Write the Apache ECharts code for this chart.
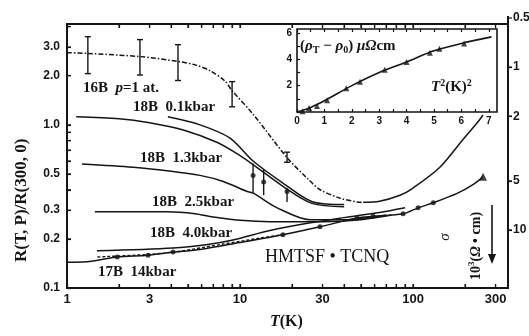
<!DOCTYPE html>
<html>
<head>
<meta charset="utf-8">
<script src="https://cdn.jsdelivr.net/npm/echarts@6/dist/echarts.min.js"></script>
<style>
html, body { margin: 0; padding: 0; background: #fff; }
#chart { width: 529px; height: 336px; }
</style>
</head>
<body>
<div id="chart"></div>
<script>
// axis ticks / labels
const tempTicks = [1, 2, 3, 4, 5, 6, 7, 8, 9, 10, 20, 30, 40, 50, 60, 70, 80, 90, 100, 200, 300]
const tempLabels = [1, 3, 10, 30, 100, 300]
const ratioTicks = [0.1, 0.2, 0.3, 0.4, 0.5, 0.6, 0.7, 0.8, 0.9, 1, 2, 3, 4]
const ratioLabels = [0.1, 0.2, 0.3, 0.5, 1, 2, 3]
const sigmaLabels = [1, 2, 5, 10]
const insetXTicks = [0, 0.5, 1, 1.5, 2, 2.5, 3, 3.5, 4, 4.5, 5, 5.5, 6, 6.5, 7]
const insetXLabels = [0, 1, 2, 3, 4, 5, 6, 7]
const insetYTicks = [0, 1, 2, 3, 4, 5, 6]
const insetYLabels = [2, 4, 6]

// [T (K), R(T,P)/R(300,0)]
const p1atm = [[1, 2.77], [1.32, 2.74], [2.64, 2.62], [4.38, 2.45], [5.5, 2.33], [6.7, 2.15], [8.2, 1.85], [9, 1.62], [12, 1.15], [18.7, 0.63], [25, 0.46], [29, 0.4], [38, 0.355], [47.5, 0.337], [51.5, 0.335]]
const p1atmHigh = [[51.5, 0.335], [64, 0.34], [84, 0.37], [100, 0.41], [143, 0.55], [194, 0.81], [235, 1.03], [254, 1.15]]
// [T, low, high]
const p1atmBars = [[1.32, 2.06, 3.47], [2.64, 2.02, 3.33], [4.38, 1.87, 3.1], [9, 1.29, 1.84], [18.7, 0.59, 0.68]]
const kbar01a = [[1.13, 1.12], [2.0, 1.09], [3.0, 1.03], [4.7, 0.93], [7.4, 0.78], [9.5, 0.67], [11.9, 0.57], [17.7, 0.42], [26, 0.33], [40, 0.315]]
const kbar01b = [[3.83, 1.12], [5.87, 1.0], [8.76, 0.83], [11.9, 0.6], [17.7, 0.44], [26.4, 0.337], [40, 0.325]]
const kbar01Bars = [[11.9, 0.383, 0.58], [13.7, 0.37, 0.53], [18.7, 0.337, 0.41]]
const kbar01Dots = [[11.9, 0.49], [13.7, 0.447], [18.7, 0.39]]
const kbar13 = [[1.22, 0.576], [2.41, 0.55], [4, 0.52], [5.87, 0.49], [8, 0.45], [11, 0.39], [12, 0.38], [16.4, 0.31], [25.4, 0.262], [40, 0.262], [70, 0.28]]
const kbar25 = [[1.45, 0.293], [3.78, 0.293], [5.5, 0.285], [7, 0.272], [10, 0.26], [14.9, 0.255], [30, 0.255], [50, 0.262], [75, 0.28]]
const kbar40 = [[1.49, 0.169], [4.1, 0.176], [6.5, 0.185], [9.1, 0.197], [14.9, 0.225], [25, 0.25], [40, 0.27], [64, 0.29], [90, 0.31]]
const kbar40Dash = [[1.5, 0.155], [3.78, 0.164], [8, 0.186], [13, 0.202], [18, 0.213]]
const kbar14 = [[1, 0.144], [1.3, 0.145], [1.95, 0.155], [2.94, 0.159], [4.1, 0.166], [5.87, 0.172], [10, 0.19], [17.7, 0.212], [29, 0.237], [47.5, 0.269], [58.8, 0.275], [87.6, 0.285], [107, 0.31], [131, 0.333], [180, 0.38], [222, 0.43], [254, 0.48]]
const kbar14Dots = [[1.95, 0.155], [2.94, 0.159], [4.1, 0.166], [17.7, 0.212], [29, 0.237], [47.5, 0.269], [58.8, 0.275], [87.6, 0.285], [107, 0.31], [131, 0.333]]
const kbar14End = [[254, 0.48]]

// inset: T^2 (K^2) vs (rho_T - rho_0) microOhm cm
const insetT2 = [0.2, 0.44, 0.73, 1.1, 1.8, 2.3, 3.2, 4.0, 4.85, 5.2, 6.1]
const insetRho = [0.05, 0.3, 0.45, 0.9, 1.8, 2.3, 3.2, 3.8, 4.5, 4.8, 5.2]
const insetLine = [[0, 0], [0.5, 0.35], [1, 0.85], [2, 2.0], [3, 3.0], [4, 3.8], [5, 4.65], [6, 5.2], [7.1, 5.7]]

const ink = '#151515'
const serif = 'Liberation Serif'
const numFont = (size) => ({ fontFamily: 'Liberation Sans', fontWeight: 'bold', fontSize: size || 12, color: ink })
const frame = (w) => ({ show: true, onZero: false, lineStyle: { color: ink, width: w || 2 } })
const noLine = () => ({ show: false, onZero: false })
const ticks = (vals, inside, len) => ({
  show: true, inside: inside, length: len, customValues: vals,
  lineStyle: { color: ink, width: 1.2 }
})
const off = () => ({ show: false })

function curve(data, dash, w) {
  return {
    type: 'line', xAxisIndex: 0, yAxisIndex: 0, data: data, smooth: 0.3,
    showSymbol: false, silent: true,
    lineStyle: { color: ink, width: w || 1.5, type: dash || 'solid' }
  }
}

function bars(data, capped) {
  return {
    type: 'custom', xAxisIndex: 0, yAxisIndex: 0, data: data, silent: true,
    encode: { x: 0, y: [1, 2] },
    renderItem: function (params, api) {
      const t = api.value(0)
      const a = api.coord([t, api.value(2)])
      const b = api.coord([t, api.value(1)])
      const st = { stroke: ink, lineWidth: 1.4 }
      const kids = [{ type: 'line', shape: { x1: a[0], y1: a[1], x2: b[0], y2: b[1] }, style: st }]
      if (capped) {
        kids.push({ type: 'line', shape: { x1: a[0] - 3, y1: a[1], x2: a[0] + 3, y2: a[1] }, style: st })
        kids.push({ type: 'line', shape: { x1: b[0] - 3, y1: b[1], x2: b[0] + 3, y2: b[1] }, style: st })
      }
      return { type: 'group', children: kids }
    }
  }
}

function txt(text, x, y, size, extra) {
  return Object.assign({
    type: 'text', x: x, y: y, silent: true,
    style: {
      text: text, fill: ink, fontFamily: serif, fontSize: size, fontWeight: 'bold',
      textVerticalAlign: 'middle',
      rich: {
        i: { fontStyle: 'italic', fontFamily: serif, fontSize: size, fontWeight: 'bold', fill: ink },
        s: { fontFamily: serif, fontSize: size - 5, fontWeight: 'bold', fill: ink, padding: [8, 0, 0, 0] },
        u: { fontFamily: serif, fontSize: size - 5, fontWeight: 'bold', fill: ink, padding: [0, 0, 8, 0] }
      }
    }
  }, extra || {})
}

const chart = echarts.init(document.getElementById('chart'))

const graphics = [
  txt('16B  {i|p}=1 at.', 83, 88, 15),
  txt('18B  0.1kbar', 133, 107, 15),
  txt('18B  1.3kbar', 140, 158, 15),
  txt('18B  2.5kbar', 152, 202, 15),
  txt('18B  4.0kbar', 150, 233, 15),
  txt('17B  14kbar', 98, 272, 15),
  txt('HMTSF • TCNQ', 265, 257, 18, { style: { text: 'HMTSF • TCNQ', fill: ink, fontFamily: serif, fontSize: 18, textVerticalAlign: 'middle' } }),
  txt('{i|T}(K)', 270, 322, 16),
  txt('R(T, P)/R(300, 0)', 22, 262, 17, { rotation: Math.PI / 2 }),
  txt('({i|ρ}{s|T} − {i|ρ}{s|0}) {i|μΩ}cm', 300, 46, 15, { z: 10 }),
  txt('{i|T}{u|2}(K){u|2}', 431, 87, 15, { z: 10 }),
  txt('σ', 445, 237, 15, { rotation: Math.PI / 2, style: { text: 'σ', fill: ink, fontFamily: serif, fontSize: 15, fontStyle: 'italic', textAlign: 'center', textVerticalAlign: 'middle' } }),
  txt('10{u|3}({i|Ω} • cm)', 476, 280, 14, { rotation: Math.PI / 2 }),
  // top of the right-hand scale (0.5) sits just above the frame
  { type: 'text', x: 513, y: 18, silent: true, style: { text: '0.5', fill: ink, fontFamily: 'Liberation Sans', fontWeight: 'bold', fontSize: 12, textVerticalAlign: 'middle' } },
  { type: 'line', silent: true, shape: { x1: 508, y1: 16, x2: 508, y2: 24 }, style: { stroke: ink, lineWidth: 2 } },
  { type: 'line', silent: true, shape: { x1: 508, y1: 18, x2: 512, y2: 18 }, style: { stroke: ink, lineWidth: 1.2 } },
  { type: 'line', silent: true, shape: { x1: 492, y1: 205, x2: 492, y2: 258 }, style: { stroke: ink, lineWidth: 1.6 } },
  { type: 'polygon', silent: true, shape: { points: [[488, 254], [496, 254], [492, 264]] }, style: { fill: ink } }
]

const option = {
  animation: false,
  grid: [
    { left: 67, top: 24, width: 441, height: 264, outerBoundsMode: 'none' },
    { left: 297, top: 29, width: 200, height: 83, outerBoundsMode: 'none', show: true, borderColor: ink, borderWidth: 1.6 }
  ],
  xAxis: [
    { type: 'log', gridIndex: 0, min: 1, max: 354, position: 'bottom', axisLine: frame(), axisTick: ticks(tempTicks, true, 4), axisLabel: off(), splitLine: off() },
    { type: 'log', gridIndex: 0, min: 1, max: 354, position: 'top', axisLine: frame(), axisTick: ticks(tempTicks, true, 4), axisLabel: off(), splitLine: off() },
    {
      type: 'log', gridIndex: 0, min: 1, max: 354, position: 'bottom', axisLine: noLine(), axisTick: off(), splitLine: off(),
      axisLabel: Object.assign({ customValues: tempLabels, margin: 5 }, numFont(13))
    },
    {
      type: 'value', gridIndex: 1, min: 0, max: 7.3, position: 'bottom', z: 6,
      axisLine: noLine(), axisTick: ticks(insetXTicks, true, 3),
      axisLabel: Object.assign({ customValues: insetXLabels, margin: 4 }, numFont(10)), splitLine: off()
    },
    {
      type: 'value', gridIndex: 1, min: 0, max: 7.3, position: 'top', z: 6,
      axisLine: noLine(), axisTick: ticks(insetXTicks, true, 3), axisLabel: off(), splitLine: off()
    }
  ],
  yAxis: [
    { type: 'log', gridIndex: 0, min: 0.1, max: 4.15, position: 'left', axisLine: frame(), axisTick: ticks(ratioTicks, true, 4), axisLabel: off(), splitLine: off() },
    {
      type: 'log', gridIndex: 0, min: 0.1, max: 4.15, position: 'left', axisLine: noLine(), axisTick: off(), splitLine: off(),
      axisLabel: Object.assign({ customValues: ratioLabels, margin: 7, formatter: v => Number(v).toFixed(1) }, numFont())
    },
    // right-hand conductivity scale (runs downward)
    { type: 'log', gridIndex: 0, min: 0.543, max: 22.7, inverse: true, position: 'right', axisLine: frame(), axisTick: ticks(sigmaLabels, false, 4), axisLabel: off(), splitLine: off() },
    {
      type: 'log', gridIndex: 0, min: 0.543, max: 22.7, inverse: true, position: 'right', axisLine: noLine(), axisTick: off(), splitLine: off(),
      axisLabel: Object.assign({ customValues: sigmaLabels, margin: 5 }, numFont())
    },
    {
      type: 'value', gridIndex: 1, min: 0, max: 6.3, z: 6,
      axisLine: noLine(), axisTick: ticks(insetYTicks, true, 3),
      axisLabel: Object.assign({ customValues: insetYLabels, margin: 5 }, numFont(10)), splitLine: off()
    }
  ],
  series: [
    curve(p1atm, [5, 2, 1.5, 2], 1.5),
    curve(p1atmHigh),
    bars(p1atmBars, true),
    curve(kbar01a),
    curve(kbar01b),
    bars(kbar01Bars, false),
    { type: 'scatter', data: kbar01Dots, symbol: 'circle', symbolSize: 5, itemStyle: { color: ink }, silent: true },
    curve(kbar13),
    curve(kbar25),
    curve(kbar40),
    curve(kbar40Dash, [3, 2], 1.4),
    curve(kbar14),
    { type: 'scatter', data: kbar14Dots, symbol: 'circle', symbolSize: 5, itemStyle: { color: ink }, silent: true },
    { type: 'scatter', data: kbar14End, symbol: 'triangle', symbolSize: 8, itemStyle: { color: ink }, silent: true },
    {
      type: 'line', xAxisIndex: 3, yAxisIndex: 4, data: insetLine, smooth: 0.3, showSymbol: false, z: 7,
      lineStyle: { color: ink, width: 1.6 }, silent: true
    },
    {
      type: 'scatter', xAxisIndex: 3, yAxisIndex: 4, z: 7, silent: true,
      data: insetT2.map((t, i) => [t, insetRho[i]]),
      symbol: 'triangle', symbolSize: 6, itemStyle: { color: ink }
    }
  ],
  graphic: graphics
}

chart.setOption(option)

// the main frame and its inner ticks, placed through the axes' own scales
const gLeft = chart.convertToPixel({ xAxisIndex: 0 }, 1)
const gRight = chart.convertToPixel({ xAxisIndex: 0 }, 354)
const gBottom = chart.convertToPixel({ yAxisIndex: 0 }, 0.1)
const gTop = chart.convertToPixel({ yAxisIndex: 0 }, 4.15)
const frameParts = [
  { type: 'rect', z: 100, silent: true, shape: { x: gLeft, y: gTop, width: gRight - gLeft, height: gBottom - gTop }, style: { fill: 'none', stroke: ink, lineWidth: 2 } }
]
tempTicks.forEach(t => {
  const x = chart.convertToPixel({ xAxisIndex: 0 }, t)
  frameParts.push({ type: 'line', z: 100, silent: true, shape: { x1: x, y1: gBottom, x2: x, y2: gBottom - 4 }, style: { stroke: ink, lineWidth: 1.2 } })
  frameParts.push({ type: 'line', z: 100, silent: true, shape: { x1: x, y1: gTop, x2: x, y2: gTop + 4 }, style: { stroke: ink, lineWidth: 1.2 } })
})
ratioTicks.forEach(r => {
  const y = chart.convertToPixel({ yAxisIndex: 0 }, r)
  frameParts.push({ type: 'line', z: 100, silent: true, shape: { x1: gLeft, y1: y, x2: gLeft + 4, y2: y }, style: { stroke: ink, lineWidth: 1.2 } })
})
sigmaLabels.forEach(s => {
  const y = chart.convertToPixel({ yAxisIndex: 2 }, s)
  frameParts.push({ type: 'line', z: 100, silent: true, shape: { x1: gRight, y1: y, x2: gRight + 4, y2: y }, style: { stroke: ink, lineWidth: 1.4 } })
})
chart.setOption({ graphic: graphics.concat(frameParts) })
</script>
</body>
</html>
